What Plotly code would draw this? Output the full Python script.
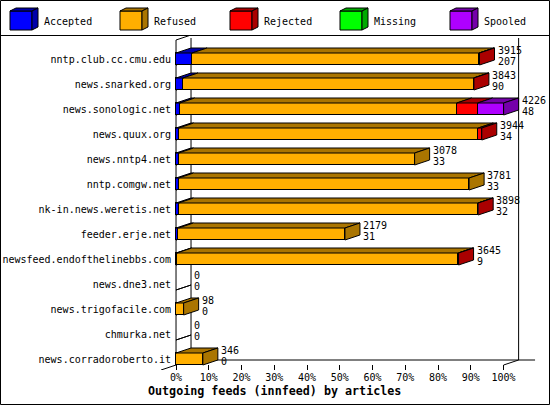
import plotly.graph_objects as go

hosts = ["nntp.club.cc.cmu.edu", "news.snarked.org", "news.sonologic.net", "news.quux.org",
         "news.nntp4.net", "nntp.comgw.net", "nk-in.news.weretis.net", "feeder.erje.net",
         "newsfeed.endofthelinebbs.com", "news.dne3.net", "news.trigofacile.com",
         "chmurka.net", "news.corradoroberto.it"]
accepted = [207, 90, 48, 34, 33, 33, 32, 31, 9, 0, 0, 0, 0]
refused = [3702, 3748, 3573, 3865, 3045, 3748, 3862, 2148, 3633, 0, 98, 0, 346]
rejected = [6, 5, 270, 45, 0, 0, 4, 0, 3, 0, 0, 0, 0]
missing = [0, 0, 0, 0, 0, 0, 0, 0, 0, 0, 0, 0, 0]
spooled = [0, 0, 335, 0, 0, 0, 0, 0, 0, 0, 0, 0, 0]
series_names = ["Accepted", "Refused", "Rejected", "Missing", "Spooled"]
x_ticks = [0, 10, 20, 30, 40, 50, 60, 70, 80, 90, 100]

colors = ["#0000FF", "#FFAF00", "#FF0000", "#00FF00", "#AF00FF"]
dark = ["#0000AA", "#AA7500", "#AA0000", "#00AA00", "#7500AA"]
FONT = "DejaVu Sans Mono"

# page geometry (px)
W, H = 550, 405
ML, MR, MT, MB = 159, 12, 36, 35
X_RANGE = [-5.2, 110.5]
Y_RANGE = [-0.44, 12.92]
pw = W - ML - MR
ph = H - MT - MB
kx = pw / (X_RANGE[1] - X_RANGE[0])
ky = ph / (Y_RANGE[1] - Y_RANGE[0])
DX = 15 / kx     # 3d depth in data units
DY = 5 / ky
HALF = 0.24      # half bar height


def px2paper(px, py):
    return (px - ML) / pw, (H - MB - py) / ph


series = [accepted, refused, rejected, missing, spooled]
n = len(hosts)
pos = [n - 1 - i for i in range(n)]
totals = [sum(s[i] for s in series) for i in range(n)]
vmax = max(totals)

fig = go.Figure()
shapes = []


def poly(pts, fill, ref="x", layer="above"):
    path = "M" + " L".join(f"{a},{b}" for a, b in pts) + " Z"
    yref = "y" if ref == "x" else "paper"
    shapes.append(dict(type="path", path=path, xref=ref, yref=yref, fillcolor=fill,
                       line=dict(color="black", width=1), layer=layer))


def line(x0, y0, x1, y1, ref="x", layer="below"):
    yref = "y" if ref == "x" else "paper"
    shapes.append(dict(type="line", x0=x0, y0=y0, x1=x1, y1=y1, xref=ref, yref=yref,
                       line=dict(color="black", width=1), layer=layer))


# back walls and floor
line(0, -HALF, 0, 12.76)
line(DX, -HALF + DY, DX, 12.84)
line(-DX, -HALF - DY, DX, -HALF + DY)
for p in pos:
    line(0, p - HALF + 1, DX, p - HALF + 1 + DY)
    line(0, p - HALF, DX, p - HALF + DY)
line(DX, -HALF + DY, 109.6, -HALF + DY)
line(100, -HALF, 100 + DX, -HALF + DY)
line(100 + DX, -HALF + DY, 100 + DX, 12.84)

# front faces
for name, vals, c in zip(series_names, series, colors):
    fig.add_trace(go.Bar(
        x=[v / vmax * 100 if v else None for v in vals],
        y=pos,
        orientation="h",
        width=2 * HALF,
        name=name,
        marker=dict(color=c, line=dict(color="black", width=1)),
    ))

# top and side faces, value labels
annotations = []
for i in range(n):
    p = pos[i]
    start = 0
    last = None
    for j, vals in enumerate(series):
        v = vals[i]
        if not v:
            continue
        a = start / vmax * 100
        b = (start + v) / vmax * 100
        poly([(a, p + HALF), (b, p + HALF), (b + DX, p + HALF + DY), (a + DX, p + HALF + DY)], dark[j])
        start += v
        last = j
    end = totals[i] / vmax * 100
    if last is not None:
        poly([(end, p - HALF), (end, p + HALF), (end + DX, p + HALF + DY), (end + DX, p - HALF + DY)],
             dark[last])
    for txt, dy in ((totals[i], 0.34), (accepted[i], -0.08)):
        annotations.append(dict(x=end + DX, y=p + dy, xref="x", yref="y", text=str(txt),
                                showarrow=False, xanchor="left", yanchor="middle", xshift=1,
                                font=dict(family=FONT, size=10, color="black")))

# legend
for j, (name, c, d) in enumerate(zip(series_names, colors, dark)):
    x0 = 10 + 110 * j
    pts = lambda lst: [px2paper(a, b) for a, b in lst]
    poly(pts([(x0, 11), (x0 + 22, 11), (x0 + 22, 30), (x0, 30)]), c, ref="paper")
    poly(pts([(x0, 11), (x0 + 6, 8), (x0 + 28, 8), (x0 + 22, 11)]), d, ref="paper")
    poly(pts([(x0 + 22, 11), (x0 + 28, 8), (x0 + 28, 27), (x0 + 22, 30)]), d, ref="paper")
    lx, ly = px2paper(x0 + 32, 21)
    annotations.append(dict(x=lx, y=ly, xref="paper", yref="paper", text=name, showarrow=False,
                            xanchor="left", yanchor="middle",
                            font=dict(family=FONT, size=10, color="black")))

# frame and legend separator
bx0, by0 = px2paper(0.5, 404.5)
bx1, by1 = px2paper(549.5, 0.5)
shapes.append(dict(type="rect", x0=bx0, y0=by0, x1=bx1, y1=by1, xref="paper", yref="paper",
                   line=dict(color="black", width=1), layer="above"))
sx0, sy = px2paper(0, 35.5)
sx1, _ = px2paper(550, 35.5)
line(sx0, sy, sx1, sy, ref="paper", layer="above")

tx, ty = px2paper(274.5, 391)
annotations.append(dict(x=tx, y=ty, xref="paper", yref="paper",
                        text="<b>Outgoing feeds (innfeed) by articles</b>", showarrow=False,
                        xanchor="center", yanchor="middle",
                        font=dict(family=FONT, size=11.7, color="black")))

fig.update_layout(
    width=W, height=H,
    margin=dict(l=ML, r=MR, t=MT, b=MB, pad=0),
    paper_bgcolor="white", plot_bgcolor="white",
    barmode="stack", bargap=0,
    showlegend=False,
    hovermode=False,
    font=dict(family=FONT, size=10, color="black"),
    shapes=shapes,
    annotations=annotations,
    xaxis=dict(range=X_RANGE, tickvals=x_ticks, ticktext=[f"{v}%" for v in x_ticks],
               ticks="inside", ticklen=5, tickcolor="black", showline=False, showgrid=False,
               zeroline=False, fixedrange=True, automargin=False,
               tickfont=dict(family=FONT, size=10)),
    yaxis=dict(range=Y_RANGE, tickvals=pos, ticktext=hosts, anchor="free",
               position=px2paper(176, 0)[0], ticks="outside", ticklen=3,
               tickcolor="rgba(0,0,0,0)", showline=False, showgrid=False,
               zeroline=False, fixedrange=True, automargin=False,
               tickfont=dict(family=FONT, size=10)),
)

# drop the default page margin so the figure sits at the window's top-left corner
fig.write_html("out.html", config={"displayModeBar": False},
               post_script="document.body.style.margin='0';")
